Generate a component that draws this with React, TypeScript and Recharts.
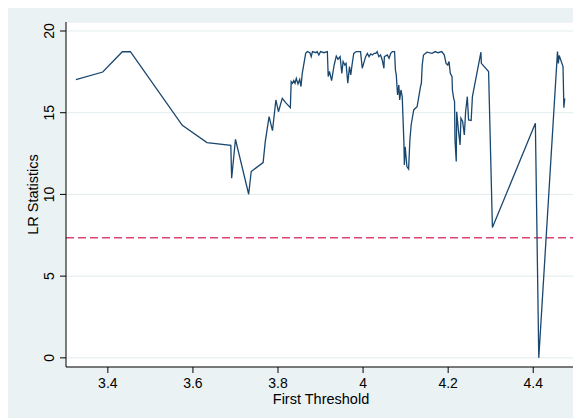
import { LineChart, Line, XAxis, YAxis, CartesianGrid, ReferenceLine, Label } from "recharts"

// threshold grid searched (x) and the LR statistic found at each one (y)
const thresholds = [
    3.325, 3.388, 3.434, 3.453, 3.575, 3.633, 3.689, 3.691, 3.7, 3.731,
    3.737, 3.765, 3.77, 3.779, 3.787, 3.795, 3.801, 3.81, 3.818, 3.829,
    3.831, 3.834, 3.837, 3.84, 3.843, 3.847, 3.851, 3.854, 3.857, 3.865,
    3.869, 3.875, 3.878, 3.881, 3.889, 3.892, 3.896, 3.9, 3.908, 3.916,
    3.918, 3.921, 3.926, 3.932, 3.937, 3.941, 3.946, 3.95, 3.953, 3.957,
    3.96, 3.964, 3.968, 3.971, 3.974, 3.978, 3.984, 3.994, 3.998, 4.006,
    4.01, 4.014, 4.018, 4.022, 4.026, 4.03, 4.033, 4.037, 4.041, 4.045,
    4.049, 4.05, 4.057, 4.061, 4.065, 4.069, 4.074, 4.076, 4.078, 4.081,
    4.084, 4.086, 4.089, 4.092, 4.096, 4.097, 4.099, 4.103, 4.107, 4.11,
    4.113, 4.119, 4.123, 4.127, 4.131, 4.135, 4.137, 4.139, 4.142, 4.15,
    4.162, 4.17, 4.176, 4.185, 4.191, 4.195, 4.199, 4.202, 4.205, 4.209,
    4.21, 4.213, 4.215, 4.216, 4.219, 4.22, 4.224, 4.228, 4.23, 4.234,
    4.238, 4.241, 4.245, 4.248, 4.254, 4.257, 4.277, 4.278, 4.295, 4.304,
    4.405, 4.413, 4.457, 4.459, 4.461, 4.47, 4.472, 4.474,
]

const lrStats = [
    17.02, 17.49, 18.73, 18.73, 14.23, 13.17, 13.0, 10.99, 13.37, 10.01,
    11.4, 11.95, 13.23, 14.76, 13.9, 15.78, 15.06, 15.88, 15.62, 15.31,
    16.9, 16.8, 16.97, 16.8, 17.1, 16.76, 17.04, 16.6, 17.41, 18.63,
    18.74, 18.67, 18.43, 18.74, 18.67, 18.74, 18.53, 18.74, 18.67, 18.74,
    17.21, 17.52, 16.96, 17.92, 18.47, 18.27, 18.43, 17.41, 18.13, 17.92,
    18.02, 16.8, 17.82, 17.31, 17.92, 18.63, 18.74, 18.74, 17.72, 18.43,
    18.63, 18.43, 18.6, 18.53, 18.63, 18.63, 18.74, 18.43, 18.53, 18.23,
    17.72, 18.43, 18.53, 18.33, 18.63, 18.74, 18.74, 17.61, 17.31, 16.09,
    16.7, 15.78, 16.39, 15.98, 13.13, 11.8, 12.92, 11.7, 11.55, 13.33,
    14.25, 15.17, 15.27, 15.37, 15.98, 16.6, 16.8, 17.92, 18.53, 18.7,
    18.63, 18.74, 18.67, 18.74, 18.53, 18.02, 17.92, 18.13, 17.41, 17.21,
    16.39, 15.88, 15.68, 13.33, 12.01, 15.06, 13.95, 13.03, 14.66, 14.46,
    13.64, 15.06, 15.98, 14.56, 14.52, 15.98, 18.7, 18.02, 17.52, 7.97,
    14.35, 0.0, 18.74, 18.02, 18.5, 17.82, 15.3, 15.88,
]

const xTicks = [3.4, 3.6, 3.8, 4, 4.2, 4.4]
const yTicks = [0, 5, 10, 15, 20]
const criticalValue = 7.35

const data = thresholds.map((x, i) => ({ x, lr: lrStats[i] }))

const font = "'Liberation Sans', Arial, sans-serif"

function RotatedTick({ x, y, payload }: any) {
    return (
        <text
            x={x}
            y={y}
            transform={`rotate(-90, ${x}, ${y})`}
            textAnchor="middle"
            fontSize={14}
            fill="#000"
            fontFamily={font}
        >
            {payload.value}
        </text>
    )
}

function YTitle({ viewBox }: any) {
    const cx = 30
    const cy = viewBox.y + viewBox.height / 2
    return (
        <text x={cx} y={cy} transform={`rotate(-90, ${cx}, ${cy})`} textAnchor="middle" fontSize={14.5} fill="#000" fontFamily={font}>
            LR Statistics
        </text>
    )
}

function XTitle({ viewBox }: any) {
    const cx = viewBox.x + viewBox.width / 2
    return (
        <text x={cx} y={396} textAnchor="middle" fontSize={14.5} fill="#000" fontFamily={font}>
            First Threshold
        </text>
    )
}

export default function App() {
    return (
        <div style={{ width: 573, height: 410, background: "#EAF2F3" }}>
            <LineChart
                width={573}
                height={410}
                data={data}
                margin={{ top: 14, right: 5, bottom: 0, left: 0 }}
                style={{ fontFamily: font }}
            >
                <CartesianGrid vertical={false} fill="#ffffff" stroke="#E3ECEE" strokeWidth={1} />
                <XAxis
                    type="number"
                    dataKey="x"
                    domain={[3.3016, 4.5005]}
                    allowDataOverflow
                    ticks={xTicks}
                    tickFormatter={(v: number) => String(v)}
                    height={51}
                    tickSize={6}
                    tickMargin={5}
                    stroke="#000"
                    tick={{ fill: "#000", fontSize: 14 }}
                >
                    <Label content={<XTitle />} />
                </XAxis>
                <YAxis
                    type="number"
                    domain={[-0.56, 20.55]}
                    allowDataOverflow
                    ticks={yTicks}
                    width={58}
                    tickSize={6}
                    tickMargin={6}
                    stroke="#000"
                    tick={<RotatedTick />}
                >
                    <Label content={<YTitle />} />
                </YAxis>
                <ReferenceLine y={criticalValue} stroke="#DC4571" strokeWidth={1.5} strokeDasharray="8 4" />
                <Line
                    type="linear"
                    dataKey="lr"
                    stroke="#1A476F"
                    strokeWidth={1.3}
                    dot={false}
                    isAnimationActive={false}
                />
            </LineChart>
        </div>
    )
}
